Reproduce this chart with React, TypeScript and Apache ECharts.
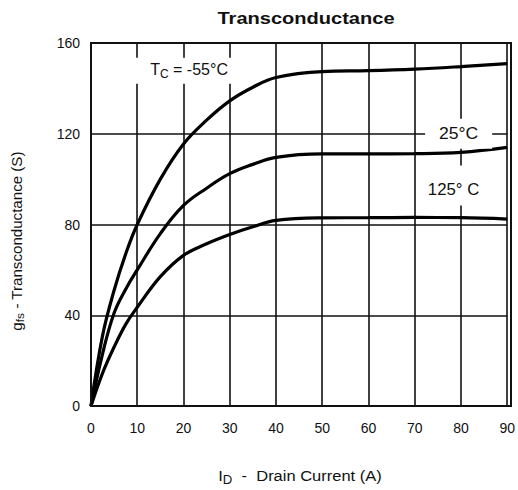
import React, { useEffect, useRef } from "react";
import * as echarts from "echarts";

const xTicks = [0, 10, 20, 30, 40, 50, 60, 70, 80, 90];
const yTicks = [0, 40, 80, 120, 160];

const currentN55 = [0, 2.5, 5, 7.5, 10, 15, 20, 25, 30, 35, 40, 50, 60, 70, 80, 90];
const gfsN55 = [0, 31, 51, 67, 80, 100, 115.5, 126, 134.5, 140.5, 144.8, 147.4, 147.8, 148.5, 149.6, 150.9];

const current25 = [0, 2.5, 5, 7.5, 10, 15, 20, 25, 30, 35, 40, 50, 60, 70, 80, 90];
const gfs25 = [0, 23, 41, 51.5, 60, 76, 88.4, 96, 102.4, 106.5, 109.6, 111.1, 111.1, 111.2, 111.8, 114];

const current125 = [0, 2.5, 5, 7.5, 10, 15, 20, 25, 30, 35, 40, 50, 60, 70, 80, 90];
const gfs125 = [0, 14.5, 26, 36, 43.5, 57, 66.4, 71.5, 75.6, 79, 81.8, 82.9, 83, 83.1, 83, 82.4];

const curveLabels = [
  { text: "T{sub|C} = -55°C", x: 21.2, y: 148.4, boxW: 110, boxH: 26, boxDy: 1.5, sx: 1.0 },
  { text: "25°C", x: 79.5, y: 120.0, boxW: 67, boxH: 30, boxDy: 0, sx: 1.1 },
  { text: "125° C", x: 78.4, y: 95.4, boxW: 56, boxH: 40, boxDy: -4, sx: 1.05 },
];

const FONT = "'Liberation Sans', Arial, sans-serif";

function pairs(xs: number[], ys: number[]) {
  return xs.map((x, i) => [x, ys[i]]);
}

export default function App() {
  const ref = useRef<HTMLDivElement>(null);
  useEffect(() => {
    if (!ref.current) return;
    const chart = echarts.init(ref.current, undefined, { renderer: "svg" });
    const lineStyle = { color: "#000", width: 3.2 };
    const lineSeries = (name: string, xs: number[], ys: number[]) => ({
      type: "line",
      name,
      data: pairs(xs, ys),
      smooth: 0.4,
      showSymbol: false,
      lineStyle,
      z: 5,
    });
    chart.setOption({
      animation: false,
      backgroundColor: "#fff",
      grid: { left: 91, right: 7, top: 43, bottom: 84, show: false },
      xAxis: {
        type: "value",
        min: xTicks[0],
        max: xTicks[xTicks.length - 1],
        interval: 10,
        axisLine: { show: true, lineStyle: { color: "#111", width: 2 } },
        axisTick: { show: false },
        axisLabel: { color: "#111", fontFamily: FONT, fontSize: 14, margin: 15 },
        splitLine: { show: true, lineStyle: { color: "#111", width: 1.6 } },
      },
      yAxis: {
        type: "value",
        min: yTicks[0],
        max: yTicks[yTicks.length - 1],
        interval: 40,
        axisLine: { show: true, lineStyle: { color: "#111", width: 2 } },
        axisTick: { show: false },
        axisLabel: { color: "#111", fontFamily: FONT, fontSize: 14, margin: 11 },
        splitLine: { show: true, lineStyle: { color: "#111", width: 1.6 } },
      },
      series: [
        lineSeries("-55°C", currentN55, gfsN55),
        lineSeries("25°C", current25, gfs25),
        lineSeries("125°C", current125, gfs125),
      ],
    });

    const labelGraphics: any[] = [];
    curveLabels.forEach((l) => {
      const p = chart.convertToPixel({ gridIndex: 0 }, [l.x, l.y]) as number[];
      labelGraphics.push({
        type: "rect",
        shape: { x: p[0] - l.boxW / 2, y: p[1] - l.boxH / 2 + l.boxDy, width: l.boxW, height: l.boxH },
        style: { fill: "#fff" },
        z: 50,
        silent: true,
      });
      labelGraphics.push({
        type: "text",
        x: p[0],
        y: p[1],
        scaleX: l.sx,
        z: 51,
        style: {
          text: l.text,
          fontFamily: FONT,
          fontSize: 16,
          fill: "#111",
          align: "center",
          verticalAlign: "middle",
          rich: {
            sub: { fontSize: 12, fontFamily: FONT, fill: "#111", verticalAlign: "bottom", padding: [9, 0, 0, 0] },
          },
        },
      });
    });

    chart.setOption({
      graphic: [
        {
          type: "rect",
          shape: { x: 91, y: 43, width: 420, height: 363 },
          style: { fill: "none", stroke: "#111", lineWidth: 2 },
          z: 100,
          silent: true,
        },
        {
          type: "text",
          x: 306,
          y: 18,
          scaleX: 1.18,
          style: {
            text: "Transconductance",
            fontFamily: FONT,
            fontSize: 17,
            fontWeight: "bold",
            fill: "#111",
            align: "center",
            verticalAlign: "middle",
          },
        },
        {
          type: "text",
          x: 17,
          y: 241,
          rotation: Math.PI / 2,
          scaleX: 1.08,
          style: {
            text: "g{sub|fs} - Transconductance (S)",
            fontFamily: FONT,
            fontSize: 14,
            fill: "#111",
            align: "center",
            verticalAlign: "middle",
            rich: {
              sub: { fontSize: 11, fontFamily: FONT, fill: "#111", verticalAlign: "bottom", padding: [6, 0, 0, 0] },
            },
          },
        },
        {
          type: "text",
          x: 300,
          y: 476,
          scaleX: 1.1,
          style: {
            text: "I{sub|D}  -  Drain Current (A)",
            fontFamily: FONT,
            fontSize: 15,
            fill: "#111",
            align: "center",
            verticalAlign: "middle",
            rich: {
              sub: { fontSize: 12, fontFamily: FONT, fill: "#111", verticalAlign: "bottom", padding: [8, 0, 0, 0] },
            },
          },
        },
        ...labelGraphics,
      ],
    });
    return () => chart.dispose();
  }, []);
  return <div ref={ref} style={{ width: 518, height: 490, position: "absolute", left: 0, top: 0 }} />;
}
